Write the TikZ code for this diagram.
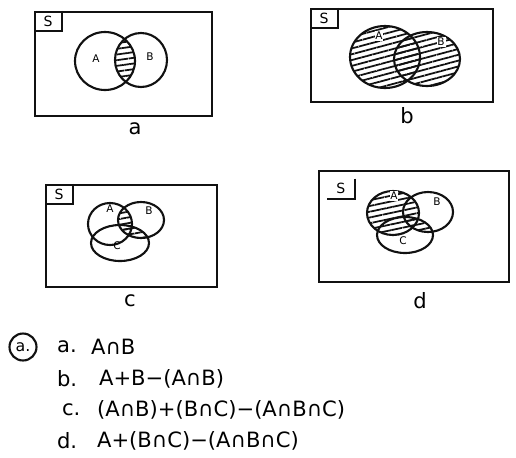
\documentclass[tikz,border=0pt]{standalone}
\usepackage{fontspec}
\setmainfont{DejaVu Sans}
\usepackage{tikz}
\usetikzlibrary{patterns.meta,positioning}
\definecolor{ink}{HTML}{111111}
\tikzset{
  panel/.style={rectangle, draw=ink, line width=1.3pt, inner sep=0pt},
  sbox/.style={anchor=north west, font=\footnotesize, inner sep=2.5pt, minimum width=0.55cm},
  setline/.style={draw=ink, line width=1.2pt},
  hatch/.style={pattern={Lines[angle=#1, distance=3.2pt, line width=1pt]}, pattern color=ink},
  setlbl/.style={font=\fontsize{6}{7}\selectfont, inner sep=0pt},
  caption/.style={font=\fontsize{12}{14}\selectfont},
  answer/.style={anchor=west, font=\fontsize{12}{14}\selectfont, inner sep=1pt},
}

\begin{document}
\begin{tikzpicture}[x=0.02cm, y=-0.02cm]
  \useasboundingbox (0,0) rectangle (516,457);
  % frames
  \node[panel, minimum width=3.54cm, minimum height=2.08cm] (pa) at (123.5,64) {};
  \node[panel, minimum width=3.64cm, minimum height=1.86cm] (pb) at (402,55.5) {};
  \node[panel, minimum width=3.42cm, minimum height=2.04cm] (pc) at (131.5,236) {};
  \node[panel, minimum width=3.80cm, minimum height=2.22cm] (pd) at (414,226.5) {};
  % S corners
  \foreach \p/\dx/\dy in {pa/0/0, pb/0/0, pc/0/0, pd/5pt/-5pt} {
    \node[sbox, xshift=\dx, yshift=\dy] (s\p) at (\p.north west) {S};
    \draw[setline] (s\p.north east) |- (s\p.south west);
  }

  % a : A and B
  \begin{scope}
    \clip (105,61) ellipse [x radius=30, y radius=29];
    \fill[hatch=8] (141,60) ellipse [x radius=26, y radius=27];
  \end{scope}
  \draw[setline] (105,61) ellipse [x radius=30, y radius=29];
  \draw[setline] (141,60) ellipse [x radius=26, y radius=27];
  \node[setlbl] (aA) at (96,59) {A};
  \node[setlbl] (aB) at (150,57) {B};

  % b : A or B
  \fill[hatch=15] (385,57) ellipse [x radius=35, y radius=31];
  \fill[hatch=15] (427,59) ellipse [x radius=33, y radius=27];
  \draw[setline] (385,57) ellipse [x radius=35, y radius=31];
  \draw[setline] (427,59) ellipse [x radius=33, y radius=27];
  \node[setlbl, fill=white, inner sep=0.5pt] (bA) at (379,36) {A};
  \node[setlbl, fill=white, inner sep=0.5pt] (bB) at (441,42) {B};

  % c : (A and B) or (B and C)
  \begin{scope}
    \clip (141,220) ellipse [x radius=23, y radius=18];
    \fill[hatch=10] (110,224) ellipse [x radius=22, y radius=21];
    \fill[hatch=10] (120,243) ellipse [x radius=29, y radius=18];
  \end{scope}
  \draw[setline] (110,224) ellipse [x radius=22, y radius=21];
  \draw[setline] (141,220) ellipse [x radius=23, y radius=18];
  \draw[setline] (120,243) ellipse [x radius=29, y radius=18];
  \node[setlbl] (cA) at (110,209) {A};
  \node[setlbl] (cB) at (149,211) {B};
  \node[setlbl] (cC) at (117,246) {C};

  % d : A or (B and C)
  \fill[hatch=12] (393,213) ellipse [x radius=26, y radius=22];
  \begin{scope}
    \clip (428,212) ellipse [x radius=25, y radius=20];
    \fill[hatch=12] (405,235) ellipse [x radius=28, y radius=18];
  \end{scope}
  \draw[setline] (393,213) ellipse [x radius=26, y radius=22];
  \draw[setline] (428,212) ellipse [x radius=25, y radius=20];
  \draw[setline] (405,235) ellipse [x radius=28, y radius=18];
  \node[setlbl, fill=white, inner sep=0.5pt] (dA) at (394,196) {A};
  \node[setlbl] (dB) at (437,202) {B};
  \node[setlbl, fill=white, inner sep=0.5pt] (dC) at (403,241) {C};

  % captions
  \node[caption] (ca) at (135,129) {a};
  \node[caption] (cb) at (407,116) {b};
  \node[caption] (cc) at (130,301) {c};
  \node[caption] (cd) at (420,301) {d};

  % answers
  \node[circle, draw=ink, line width=1.2pt, inner sep=1pt, minimum size=0.54cm, font=\small] (q) at (23,347) {a.};
  \node[answer] (la) at (55,347) {a.};
  \node[answer] (fa) at (89,347) {A∩B};
  \node[answer] (lb) at (55,379) {b.};
  \node[answer] (fb) at (97,379) {A+B−(A∩B)};
  \node[answer] (lc) at (60,410) {c.};
  \node[answer] (fc) at (95,410) {(A∩B)+(B∩C)−(A∩B∩C)};
  \node[answer] (ld) at (55,441) {d.};
  \node[answer] (fd) at (95,441) {A+(B∩C)−(A∩B∩C)};
\end{tikzpicture}
\end{document}
